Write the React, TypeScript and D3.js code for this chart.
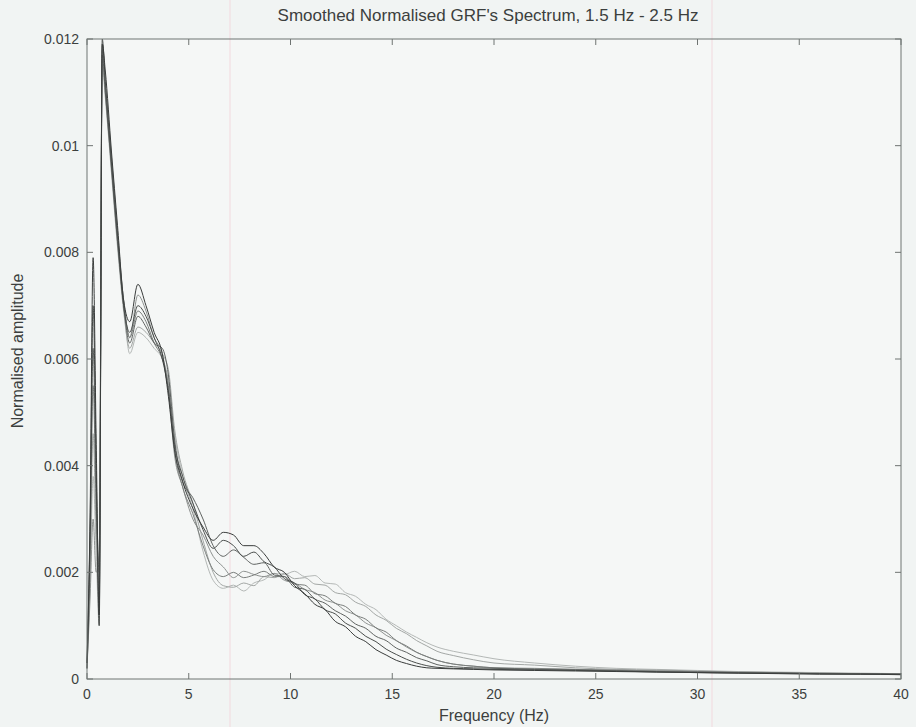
import React from "react";
import * as d3 from "d3";

const title = "Smoothed Normalised GRF's Spectrum, 1.5 Hz - 2.5 Hz";
const xLabel = "Frequency (Hz)";
const yLabel = "Normalised amplitude";
const xTicks = [0, 5, 10, 15, 20, 25, 30, 35, 40];
const yTicks = [0, 0.002, 0.004, 0.006, 0.008, 0.01, 0.012];
const yTickLabels = ["0", "0.002", "0.004", "0.006", "0.008", "0.01", "0.012"];

// frequency grid (Hz)
const frequencies = [
  0, 0.15, 0.3, 0.45, 0.6, 0.75, 0.9, 1.2, 1.5, 1.8, 2.1, 2.5, 2.9, 3.3, 3.7, 4.0, 4.3, 4.7,
  5.2, 5.7, 6.2, 6.7, 7.2, 7.7, 8.2, 8.7, 9.2, 9.7, 10.2, 10.7, 11.2, 11.7, 12.2, 12.7, 13.2, 13.7,
  14.2, 14.7, 15.2, 15.7, 16.2, 16.7, 17.2, 18, 19, 20,
  22, 24, 26, 28, 30, 32, 34, 36, 38, 40,
];

// amplitudes in units of 0.001
const trial1 = [
  0.3, 3.0, 7.9, 4.5, 1.2, 11.9, 11.4, 9.9, 8.5, 7.1, 6.7, 7.4, 7.0, 6.5, 6.1, 5.3, 4.3, 3.7,
  3.2, 2.85, 2.6, 2.75, 2.7, 2.5, 2.5, 2.35, 2.1, 2.0, 1.75, 1.6, 1.4, 1.3, 1.08, 0.98, 0.8, 0.7,
  0.55, 0.45, 0.35, 0.29, 0.24, 0.21, 0.2, 0.19, 0.18, 0.17,
  0.16, 0.15, 0.14, 0.13, 0.12, 0.11, 0.1, 0.09, 0.09, 0.08,
];
const trial2 = [
  0.3, 2.8, 7.0, 4.0, 1.0, 12.0, 11.2, 9.7, 8.3, 7.0, 6.5, 7.0, 6.8, 6.4, 6.0, 5.4, 4.4, 3.8,
  3.3, 2.8, 2.45, 2.6, 2.5, 2.3, 2.38, 2.2, 2.1, 1.88, 1.8, 1.58, 1.5, 1.3, 1.22, 1.05, 0.95, 0.8,
  0.7, 0.56, 0.46, 0.37, 0.3, 0.25, 0.22, 0.2, 0.19, 0.18,
  0.17, 0.16, 0.15, 0.13, 0.12, 0.11, 0.11, 0.1, 0.09, 0.09,
];
const trial3 = [
  0.2, 2.5, 6.2, 3.6, 2.0, 11.7, 11.0, 9.6, 8.2, 7.0, 6.3, 6.8, 6.6, 6.3, 6.2, 5.7, 4.5, 3.7,
  3.4, 3.0, 2.5, 2.3, 2.42, 2.28, 2.15, 2.18, 1.95, 1.92, 1.72, 1.68, 1.5, 1.42, 1.28, 1.18, 1.03, 0.95,
  0.8, 0.72, 0.58, 0.5, 0.4, 0.34, 0.27, 0.23, 0.21, 0.2,
  0.18, 0.17, 0.15, 0.14, 0.13, 0.12, 0.11, 0.1, 0.1, 0.09,
];
const trial4 = [
  0.2, 2.2, 5.5, 3.2, 1.5, 11.8, 11.1, 9.7, 8.3, 7.1, 6.4, 6.9, 6.7, 6.3, 6.0, 5.5, 4.3, 3.6,
  3.1, 2.5, 2.05, 1.92, 2.0, 1.9, 1.95, 2.02, 1.92, 1.92, 1.78, 1.76, 1.6, 1.56, 1.42, 1.36, 1.2, 1.12,
  0.96, 0.88, 0.72, 0.62, 0.5, 0.42, 0.35, 0.28, 0.24, 0.21,
  0.19, 0.18, 0.16, 0.15, 0.14, 0.12, 0.11, 0.1, 0.1, 0.09,
];
const trial5 = [
  0.2, 2.0, 4.6, 2.8, 1.8, 11.5, 10.9, 9.5, 8.1, 6.9, 6.2, 6.6, 6.5, 6.3, 6.1, 5.8, 4.7, 3.9,
  3.3, 2.6, 2.0, 1.75, 1.72, 1.8, 1.75, 1.92, 1.9, 1.98, 1.88, 1.9, 1.78, 1.76, 1.62, 1.58, 1.44, 1.36,
  1.2, 1.1, 0.95, 0.85, 0.72, 0.62, 0.52, 0.44, 0.36, 0.3,
  0.26, 0.21, 0.18, 0.17, 0.15, 0.13, 0.12, 0.11, 0.1, 0.09,
];
const trial6 = [
  0.2, 1.8, 3.8, 2.4, 1.0, 11.6, 11.0, 9.6, 8.2, 7.0, 6.1, 6.5, 6.4, 6.2, 6.0, 5.6, 4.6, 3.8,
  3.2, 2.4, 1.85, 1.7, 1.76, 1.65, 1.8, 1.86, 1.98, 1.96, 2.02, 1.92, 1.94, 1.8, 1.78, 1.62, 1.55, 1.4,
  1.3, 1.12, 1.0, 0.88, 0.78, 0.68, 0.6, 0.52, 0.45, 0.38,
  0.3, 0.24, 0.2, 0.18, 0.16, 0.14, 0.13, 0.12, 0.11, 0.1,
];
const trial7 = [
  0.2, 1.5, 3.0, 2.0, 2.4, 11.9, 11.2, 9.8, 8.4, 7.1, 6.4, 7.2, 6.9, 6.4, 6.1, 5.4, 4.2, 3.6,
  3.0, 2.7, 2.3, 2.1, 1.9, 2.02, 1.96, 1.92, 1.98, 1.85, 1.8, 1.68, 1.62, 1.48, 1.42, 1.28, 1.2, 1.05,
  0.96, 0.82, 0.72, 0.6, 0.5, 0.42, 0.35, 0.28, 0.24, 0.21,
  0.2, 0.18, 0.17, 0.15, 0.14, 0.13, 0.12, 0.11, 0.1, 0.09,
];

const seriesList = [trial6, trial5, trial7, trial4, trial3, trial2, trial1];
const seriesColors = ["#b4b8b6", "#a3a7a5", "#8e9290", "#7a7e7c", "#5f6361", "#4a4e4c", "#3a3d3c"];

const W = 916;
const H = 727;
const M = { left: 87, right: 15, top: 39, bottom: 48 };

export default function App() {
  const x = d3.scaleLinear().domain([0, 40]).range([M.left, W - M.right]);
  const y = d3.scaleLinear().domain([0, 0.012]).range([H - M.bottom, M.top]);
  const line = d3
    .line<number>()
    .x((_, i) => x(frequencies[i]))
    .y((d) => y(d / 1000))
    .curve(d3.curveMonotoneX);

  const axisColor = "#6f7472";
  const textColor = "#3c3f3e";
  const font = "'Liberation Sans', Arial, sans-serif";
  const x0 = M.left;
  const x1 = W - M.right;
  const y0 = H - M.bottom;
  const y1 = M.top;
  const tl = 6;

  return (
    <div>
      <style>{"body{margin:0;} svg{display:block;}"}</style>
      <svg width={W} height={H} viewBox={`0 0 ${W} ${H}`}>
        <rect x={0} y={0} width={W} height={H} fill="#f1f4f3" />
        <rect x={x0} y={y1} width={x1 - x0} height={y0 - y1} fill="#f5f7f6" />
        <line x1={230} x2={230} y1={0} y2={H} stroke="#f2d9de" strokeWidth={1} />
        <line x1={712} x2={712} y1={0} y2={H} stroke="#f2d9de" strokeWidth={1} />
        {seriesList.map((s, i) => (
          <path key={i} d={line(s) || ""} fill="none" stroke={seriesColors[i]} strokeWidth={1} />
        ))}
        <rect x={x0} y={y1} width={x1 - x0} height={y0 - y1} fill="none" stroke={axisColor} strokeWidth={1} />
        {xTicks.map((t) => (
          <g key={"x" + t}>
            <line x1={x(t)} x2={x(t)} y1={y0} y2={y0 - tl} stroke={axisColor} />
            <line x1={x(t)} x2={x(t)} y1={y1} y2={y1 + tl} stroke={axisColor} />
            <text x={x(t)} y={y0 + 20} textAnchor="middle" fontFamily={font} fontSize={14} fill={textColor}>
              {t}
            </text>
          </g>
        ))}
        {yTicks.map((t, i) => (
          <g key={"y" + t}>
            <line x1={x0} x2={x0 + tl} y1={y(t)} y2={y(t)} stroke={axisColor} />
            <line x1={x1} x2={x1 - tl} y1={y(t)} y2={y(t)} stroke={axisColor} />
            <text x={x0 - 8} y={y(t) + 5} textAnchor="end" fontFamily={font} fontSize={14} fill={textColor}>
              {yTickLabels[i]}
            </text>
          </g>
        ))}
        <text x={488} y={21} textAnchor="middle" fontFamily={font} fontSize={17} fill={textColor}>
          {title}
        </text>
        <text x={(x0 + x1) / 2} y={H - 6} textAnchor="middle" fontFamily={font} fontSize={16} fill={textColor}>
          {xLabel}
        </text>
        <text
          transform={`translate(23, ${(y0 + y1) / 2 - 8}) rotate(-90)`}
          textAnchor="middle"
          fontFamily={font}
          fontSize={16}
          fill={textColor}
        >
          {yLabel}
        </text>
      </svg>
    </div>
  );
}
